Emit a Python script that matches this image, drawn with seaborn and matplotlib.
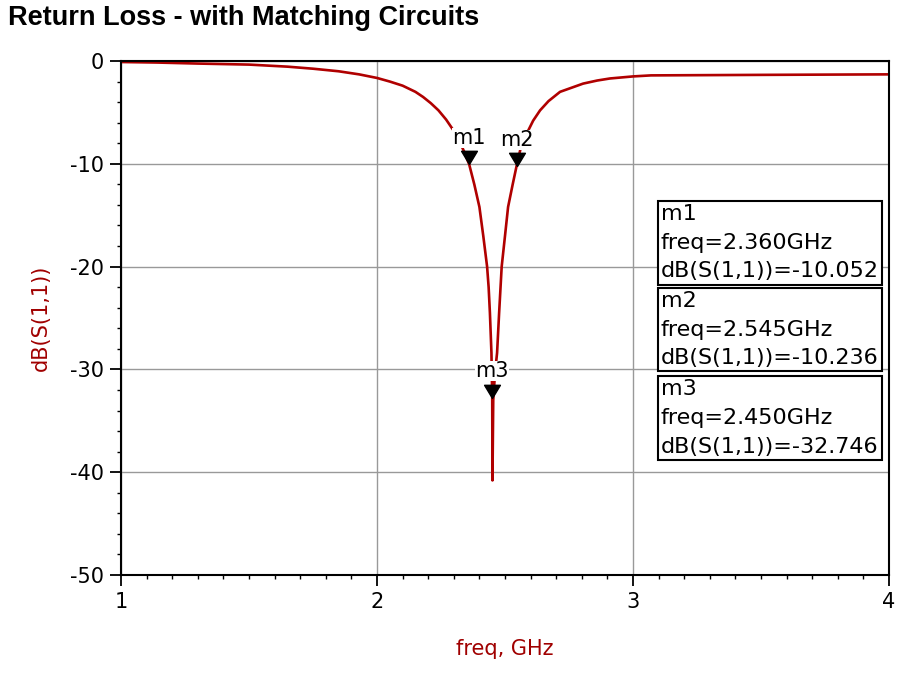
import matplotlib
matplotlib.use("Agg")
import matplotlib.pyplot as plt
import matplotlib.ticker as mticker
import seaborn as sns
import pandas as pd

# S11 trace
freq = [1.0, 1.14, 1.3, 1.5, 1.65, 1.75, 1.85, 1.93, 2.0, 2.05, 2.1, 2.15,
        2.18, 2.21, 2.24, 2.27, 2.30, 2.32, 2.34, 2.36, 2.38, 2.40, 2.415,
        2.43, 2.436, 2.441, 2.447, 2.450, 2.451, 2.454, 2.461, 2.469, 2.477,
        2.487, 2.50, 2.512, 2.53, 2.545, 2.56, 2.586, 2.61, 2.637, 2.67,
        2.715, 2.76, 2.805, 2.86, 2.91, 3.0, 3.07, 3.5, 4.0]
s11_db = [-0.1, -0.15, -0.25, -0.35, -0.55, -0.75, -1.0, -1.3, -1.65, -2.0,
          -2.4, -3.0, -3.5, -4.1, -4.8, -5.7, -6.8, -7.7, -8.8, -10.052,
          -12.0, -14.2, -17.0, -20.0, -22.0, -24.5, -28.4, -32.746, -40.8,
          -33.0, -30.3, -28.4, -24.5, -20.0, -17.0, -14.2, -12.0, -10.236,
          -8.6, -7.0, -5.8, -4.8, -3.9, -3.0, -2.6, -2.2, -1.9, -1.7, -1.5,
          -1.4, -1.35, -1.3]

marker_names = ["m1", "m2", "m3"]
marker_freq = [2.360, 2.545, 2.450]
marker_db = [-10.052, -10.236, -32.746]

df = pd.DataFrame({"freq": freq, "dB": s11_db})

sns.set_style("white")
plt.rcParams["font.family"] = ["DejaVu Sans"]
plt.rcParams["axes.unicode_minus"] = False

fig = plt.figure(figsize=(8.99, 6.74), dpi=100)
ax = fig.add_axes([0.1346, 0.1469, 0.9889 - 0.1346, 0.9095 - 0.1469])

sns.lineplot(data=df, x="freq", y="dB", color="#B00000", linewidth=1.9,
             estimator=None, sort=False, ax=ax)

# marker triangles with tip on the trace
tri = [(0, 0), (-0.6, 1.0), (0.6, 1.0), (0, 0)]
ax.plot(marker_freq, marker_db, linestyle="none", marker=tri, markersize=19,
        color="black", zorder=5)
for name, f, d in zip(marker_names, marker_freq, marker_db):
    ax.annotate(name, (f, d), xytext=(0, 12), textcoords="offset points",
                ha="center", va="bottom", fontsize=15, color="black",
                bbox=dict(boxstyle="square,pad=0.0", fc="white", ec="none"),
                zorder=6)

# readout boxes
box_tops = [0.722, 0.553, 0.381]
for name, f, d, top in zip(marker_names, marker_freq, marker_db, box_tops):
    txt = f"{name}\nfreq={f:.3f}GHz\ndB(S(1,1))={d:.3f}"
    ax.text(0.703, top, txt, transform=ax.transAxes, ha="left", va="top",
            fontsize=16, linespacing=1.55, color="black", zorder=7,
            bbox=dict(boxstyle="square,pad=0.14", fc="white", ec="black", lw=1.5))

ax.set_xlim(1, 4)
ax.set_ylim(-50, 0)
ax.xaxis.set_major_locator(mticker.MultipleLocator(1))
ax.xaxis.set_minor_locator(mticker.MultipleLocator(0.1))
ax.yaxis.set_major_locator(mticker.MultipleLocator(10))
ax.yaxis.set_minor_locator(mticker.MultipleLocator(2))
ax.grid(True, which="major", color="#999999", linewidth=1.0)
ax.tick_params(which="major", direction="out", length=8, width=1.3,
               labelsize=15, pad=4, colors="black", left=True, bottom=True)
ax.tick_params(which="minor", direction="out", length=3, width=1.0,
               left=True, bottom=True, colors="black")
for sp in ax.spines.values():
    sp.set_color("black")
    sp.set_linewidth(1.5)

ax.set_xlabel("freq, GHz", fontsize=15, color="#A00000", labelpad=20)
ax.set_ylabel("dB(S(1,1))", fontsize=15, color="#A00000", labelpad=14)

fig.text(0.009, 0.973, "Return Loss - with Matching Circuits", ha="left",
         va="center", fontsize=19.5, fontweight="bold", color="black",
         family=["Liberation Sans", "DejaVu Sans"])

fig.savefig("out.png", dpi=100)
